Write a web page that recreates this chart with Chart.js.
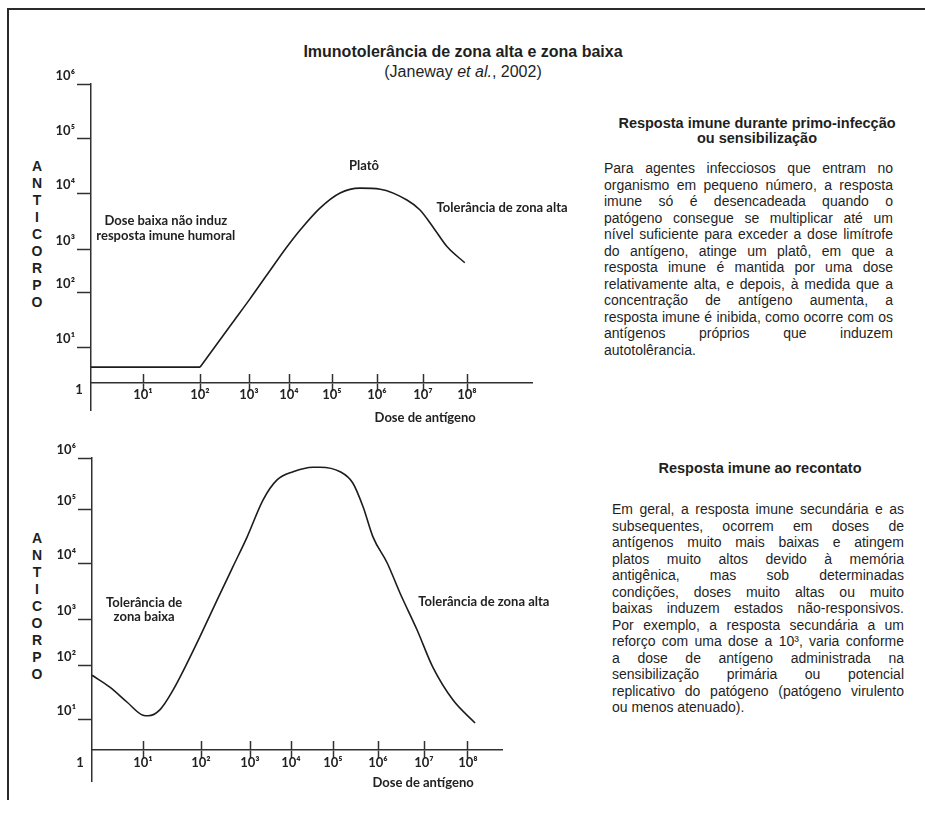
<!DOCTYPE html>
<html lang="pt">
<head>
<meta charset="utf-8">
<title>Imunotolerância de zona alta e zona baixa</title>
<script src="https://cdn.jsdelivr.net/npm/chart.js@4.4.1/dist/chart.umd.min.js"></script>
<style>
  html, body { margin: 0; padding: 0; background: #fff; }
  body {
    width: 925px; height: 821px; position: relative; overflow: hidden;
    font-family: "Liberation Sans", Arial, sans-serif; color: #1f1f1f;
  }
  .frame-top { position: absolute; left: 7px; top: 8px; width: 918px; height: 2px; background: #2a2a2a; }
  .frame-left { position: absolute; left: 7px; top: 8px; width: 2px; height: 792px; background: #2a2a2a; }
  .title, .subtitle { position: absolute; left: 263px; width: 400px; text-align: center; font-size: 16px; line-height: 18px; white-space: nowrap; }
  .title { top: 43px; font-weight: bold; }
  .subtitle { top: 63px; }
  .axis-word { position: absolute; left: 27px; width: 20px; text-align: center; font-weight: bold; font-size: 14px; line-height: 17px; }
  .panel { position: absolute; left: 0; }
  .panel canvas { display: block; }
  .note-head { position: absolute; width: 300px; font-weight: bold; font-size: 14.5px; line-height: 15px; text-align: center; }
  .note-body { position: absolute; font-size: 14px; line-height: 16.5px; }
  .note-body span { display: block; text-align: justify; text-align-last: justify; }
  .note-body span.last { text-align: left; text-align-last: left; }
</style>
</head>
<body>
<div class="frame-top"></div>
<div class="frame-left"></div>

<div class="title">Imunotolerância de zona alta e zona baixa</div>
<div class="subtitle">(Janeway <i>et al.</i>, 2002)</div>

<div class="axis-word" style="top:158px">A<br>N<br>T<br>I<br>C<br>O<br>R<br>P<br>O</div>
<div class="axis-word" style="top:530px">A<br>N<br>T<br>I<br>C<br>O<br>R<br>P<br>O</div>

<div class="panel" style="top:40px"><canvas id="primaryChart" width="580" height="400"></canvas></div>
<div class="panel" style="top:430px"><canvas id="recallChart" width="580" height="390"></canvas></div>

<div class="note-head" style="left:607px; top:116px">Resposta imune durante primo-infecção<br>ou sensibilização</div>
<div class="note-body" style="left:604px; top:160px; width:289px">
  <span>Para agentes infecciosos que entram no</span>
  <span>organismo em pequeno número, a resposta</span>
  <span>imune só é desencadeada quando o</span>
  <span>patógeno consegue se multiplicar até um</span>
  <span>nível suficiente para exceder a dose limítrofe</span>
  <span>do antígeno, atinge um platô, em que a</span>
  <span>resposta imune é mantida por uma dose</span>
  <span>relativamente alta, e depois, à medida que a</span>
  <span>concentração de antígeno aumenta, a</span>
  <span>resposta imune é inibida, como ocorre com os</span>
  <span>antígenos próprios que induzem</span>
  <span class="last">autotolêrancia.</span>
</div>

<div class="note-head" style="left:610px; top:461px">Resposta imune ao recontato</div>
<div class="note-body" style="left:612px; top:501px; width:292px">
  <span>Em geral, a resposta imune secundária e as</span>
  <span>subsequentes, ocorrem em doses de</span>
  <span>antígenos muito mais baixas e atingem</span>
  <span>platos muito altos devido à memória</span>
  <span>antigênica, mas sob determinadas</span>
  <span>condições, doses muito altas ou muito</span>
  <span>baixas induzem estados não-responsivos.</span>
  <span>Por exemplo, a resposta secundária a um</span>
  <span>reforço com uma dose a 10³, varia conforme</span>
  <span>a dose de antígeno administrada na</span>
  <span>sensibilização primária ou potencial</span>
  <span>replicativo do patógeno (patógeno virulento</span>
  <span class="last">ou menos atenuado).</span>
</div>

<script>
// Both axes are in log10 units: dose of antigen and antibody level.
const doseTickValues = [1, 2, 3, 4, 5, 6, 7, 8];
const doseTickLabels = ['10¹', '10²', '10³', '10⁴', '10⁵', '10⁶', '10⁷', '10⁸'];
const antibodyTickValues = [1, 2, 3, 4, 5, 6];
const antibodyTickLabels = ['10¹', '10²', '10³', '10⁴', '10⁵', '10⁶'];
const originValue = 0;
const originLabel = '1';

// Primary response: below the threshold dose there is no humoral response
const thresholdLogDose = [0, 2];
const thresholdLogAntibody = [0.44, 0.44];

// Primary response above the threshold: rise, plateau, high-zone tolerance
const primaryLogDose =     [2.0, 2.67, 3.02, 3.45, 3.95, 4.26, 4.72, 5.18, 5.62, 6.07, 6.65, 6.93, 7.23, 7.55, 7.95];
const primaryLogAntibody = [0.44, 1.45, 1.87, 2.40, 3.04, 3.34, 3.73, 4.00, 4.09, 4.07, 3.875, 3.70, 3.39, 3.04, 2.68];

// Recall response: low-zone tolerance, high plateau, high-zone tolerance
const recallLogDose =     [0, 0.35, 0.69, 1.0, 1.09, 1.29, 1.52, 1.76, 1.98, 2.33, 2.65, 2.94, 3.32, 3.66, 4.05, 4.52, 4.69, 5.16, 5.44, 5.67, 5.89, 6.2, 6.48, 6.85, 7.2, 7.66, 8.16];
const recallLogAntibody = [1.81, 1.59, 1.31, 1.07, 1.06, 1.17, 1.54, 2.04, 2.61, 3.34, 3.93, 4.48, 5.18, 5.57, 5.73, 5.82, 5.82, 5.73, 5.51, 5.04, 4.48, 4.0, 3.46, 2.76, 1.96, 1.35, 0.87];

// A linear scale whose decades are laid out with individual widths,
// as on a hand-drawn schematic axis.
class DecadeScale extends Chart.LinearScale {
  static id = 'decade';
  static defaults = {};

  _layoutStops() {
    const values = Array.from(this.options.stopValues);
    const gaps = Array.from(this.options.stopGaps);
    const total = gaps.reduce((a, b) => a + b, 0);
    const fractions = [0];
    gaps.forEach(g => fractions.push(fractions[fractions.length - 1] + g / total));
    this._stopValues = values;
    this._stopFractions = fractions;
  }

  buildTicks() {
    this._layoutStops();
    this.start = this.min;
    this.end = this.max;
    return Array.from(this.options.tickValues).map(value => ({ value }));
  }

  _decimalFor(value) {
    const v = this._stopValues, f = this._stopFractions, n = v.length;
    let i = 0;
    while (i < n - 2 && value > v[i + 1]) i++;
    return f[i] + (value - v[i]) / (v[i + 1] - v[i]) * (f[i + 1] - f[i]);
  }

  getPixelForValue(value) {
    if (value === null || value === undefined) return NaN;
    if (!this._stopValues) this._layoutStops();
    return this.getPixelForDecimal(this._decimalFor(value));
  }

  getValueForPixel(pixel) {
    if (!this._stopValues) this._layoutStops();
    const d = this.getDecimalForPixel(pixel);
    const v = this._stopValues, f = this._stopFractions, n = v.length;
    let i = 0;
    while (i < n - 2 && d > f[i + 1]) i++;
    return v[i] + (d - f[i]) / (f[i + 1] - f[i]) * (v[i + 1] - v[i]);
  }
}
Chart.register(DecadeScale);

const INK = '#1c1c1c';
const AXIS = '#303030';
const LABEL_FONT = 'Lato, "Open Sans", "DejaVu Sans", sans-serif';
const TICK_FONT = { family: LABEL_FONT, weight: 'bold', size: 13, lineHeight: 1.2 };

// Writes the explanatory labels next to the curve, anchored in data units.
function notesPlugin(notes) {
  return {
    id: 'curveNotes',
    afterDatasetsDraw(chart) {
      const { ctx, scales: { x, y } } = chart;
      ctx.save();
      ctx.font = 'bold 13px ' + LABEL_FONT;
      ctx.fillStyle = '#222';
      ctx.textAlign = 'center';
      ctx.textBaseline = 'middle';
      for (const note of notes) {
        const px = x.getPixelForValue(note.x);
        const py = y.getPixelForValue(note.y);
        note.lines.forEach((line, i) => {
          ctx.fillText(line, px, py + (i - (note.lines.length - 1) / 2) * 14.5);
        });
      }
      ctx.restore();
    }
  };
}

function toPoints(xs, ys) {
  return xs.map((x, i) => ({ x, y: ys[i] }));
}

function makePanel(canvasId, cfg) {
  const doseCommon = {
    type: 'decade',
    axis: 'x',
    position: { y: 0 },
    min: cfg.doseStops[0],
    max: cfg.doseStops[cfg.doseStops.length - 1],
    stopValues: cfg.doseStops,
    stopGaps: cfg.doseGaps,
    tickValues: doseTickValues,
    afterFit: s => { s.height = 0; }
  };

  return new Chart(document.getElementById(canvasId), {
    type: 'line',
    data: {
      datasets: cfg.series.map(s => ({
        data: toPoints(s.dose, s.antibody),
        borderColor: INK,
        borderWidth: 1.6,
        pointRadius: 0,
        fill: false,
        cubicInterpolationMode: s.smooth ? 'monotone' : 'default',
        tension: 0,
        xAxisID: 'x',
        yAxisID: 'y'
      }))
    },
    options: {
      responsive: false,
      animation: false,
      events: [],
      layout: { padding: cfg.padding },
      plugins: { legend: { display: false }, tooltip: { enabled: false } },
      scales: {
        x: Object.assign({}, doseCommon, {
          border: { display: true, color: AXIS, width: 1.5 },
          grid: { drawOnChartArea: false, drawTicks: true, tickLength: 8, tickWidth: 1.5, tickColor: AXIS },
          ticks: {
            autoSkip: false, maxRotation: 0, minRotation: 0,
            padding: cfg.doseLabelPadding,
            color: '#222',
            font: TICK_FONT,
            callback: value => doseTickLabels[doseTickValues.indexOf(value)] ?? ''
          }
        }),
        // upper half of the dose tick marks, which cross the axis line
        xCross: Object.assign({}, doseCommon, {
          border: { display: false },
          grid: { drawOnChartArea: false, drawTicks: true, tickLength: -9, tickWidth: 1.5, tickColor: AXIS },
          ticks: { display: false }
        }),
        // the shared origin label "1", set below and left of the corner
        xOrigin: Object.assign({}, doseCommon, {
          tickValues: [originValue],
          border: { display: false },
          grid: { drawOnChartArea: false, drawTicks: false },
          ticks: {
            autoSkip: false, maxRotation: 0, minRotation: 0,
            padding: cfg.originLabelPadding,
            labelOffset: -12,
            color: '#222',
            font: TICK_FONT,
            callback: () => originLabel
          }
        }),
        y: {
          type: 'decade',
          axis: 'y',
          position: 'left',
          min: cfg.antibodyStops[0],
          max: cfg.antibodyStops[cfg.antibodyStops.length - 1],
          stopValues: cfg.antibodyStops,
          stopGaps: cfg.antibodyGaps,
          tickValues: antibodyTickValues,
          afterFit: s => { s.width = cfg.yAxisWidth; },
          border: { display: true, color: AXIS, width: 1.5 },
          grid: { drawOnChartArea: false, drawTicks: true, tickLength: 14, tickWidth: 1.5, tickColor: AXIS },
          ticks: {
            autoSkip: false,
            padding: 2,
            labelOffset: -8,
            color: '#222',
            font: TICK_FONT,
            callback: value => antibodyTickLabels[antibodyTickValues.indexOf(value)] ?? ''
          }
        }
      }
    },
    plugins: [notesPlugin(cfg.notes)]
  });
}

makePanel('primaryChart', {
  padding: { top: 44, right: 48, bottom: 30, left: 0 },
  yAxisWidth: 91,
  doseStops: [0, 1, 2, 3, 4, 5, 6, 7, 8, 9.5],
  doseGaps: [52, 57, 49, 40, 43, 45, 46, 44, 65],
  antibodyStops: [-0.75, 0, 1, 2, 3, 4, 5, 6],
  antibodyGaps: [27, 36, 55, 43, 56, 54, 55],
  doseLabelPadding: -4,
  originLabelPadding: -1,
  series: [
    { dose: thresholdLogDose, antibody: thresholdLogAntibody, smooth: false },
    { dose: primaryLogDose, antibody: primaryLogAntibody, smooth: true }
  ],
  notes: [
    { lines: ['Platô'], x: 5.71, y: 4.5 },
    { lines: ['Tolerância de zona alta'], x: 8.81, y: 3.73 },
    { lines: ['Dose baixa não induz', 'resposta imune humoral'], x: 1.40, y: 3.37 },
    { lines: ['Dose de antígeno'], x: 7.05, y: -0.97 }
  ]
});

makePanel('recallChart', {
  padding: { top: 28, right: 78, bottom: 39, left: 0 },
  yAxisWidth: 92,
  doseStops: [0, 1, 2, 3, 4, 5, 6, 7, 8, 8.77],
  doseGaps: [51, 58, 49, 41, 42, 45, 46, 44, 34],
  antibodyStops: [-1, 0, 1, 2, 3, 4, 5, 6],
  antibodyGaps: [31, 31, 54, 46, 56, 54, 51],
  doseLabelPadding: -3,
  originLabelPadding: 5,
  series: [
    { dose: recallLogDose, antibody: recallLogAntibody, smooth: true }
  ],
  notes: [
    { lines: ['Tolerância de', 'zona baixa'], x: 1.02, y: 3.16 },
    { lines: ['Tolerância de zona alta'], x: 8.36, y: 3.30 },
    { lines: ['Dose de antígeno'], x: 6.98, y: -1.06 }
  ]
});
</script>
</body>
</html>
